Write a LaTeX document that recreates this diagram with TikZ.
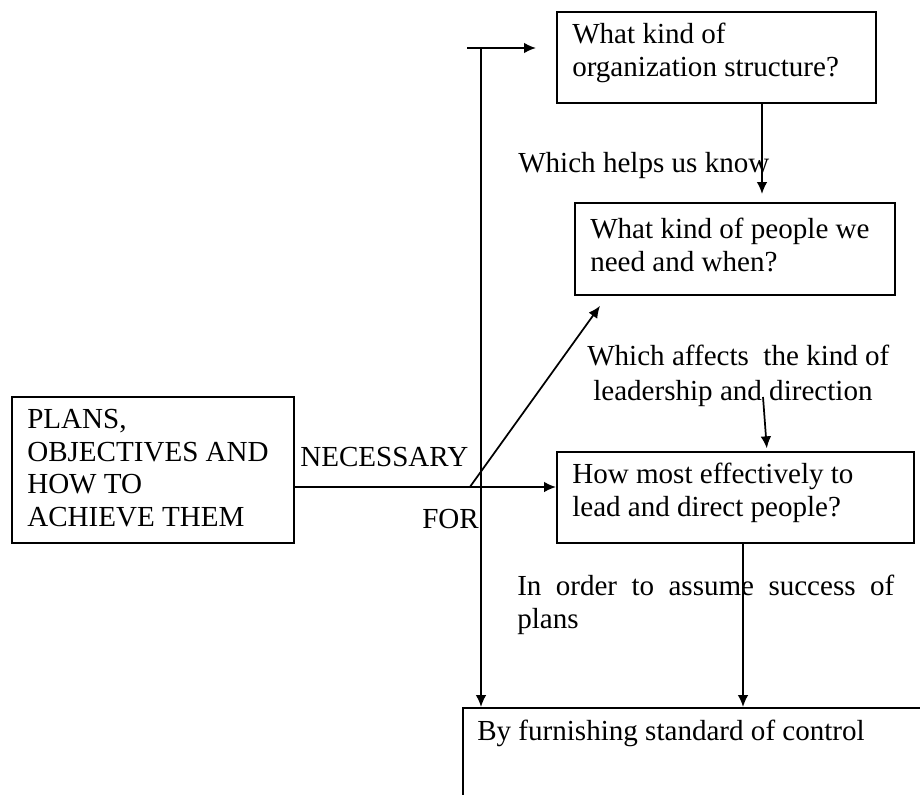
\documentclass[tikz,border=0pt]{standalone}
\usepackage{fontspec}
\setmainfont{Liberation Serif}
\usetikzlibrary{arrows.meta,calc}
\begin{document}
\begin{tikzpicture}[x=0.75pt,y=-0.75pt,
  every node/.style={font=\fontsize{21.8}{24.4}\selectfont},
  box/.style={draw,line width=1.4pt,rectangle,anchor=north west,inner sep=0pt},
  boxtext/.style={anchor=north west,inner sep=0pt,align=left},
  lbl/.style={anchor=base west,inner sep=0pt},
  conn/.style={line width=1.3pt,-{Latex[length=9pt,width=8pt]}}]
\useasboundingbox (0,0) rectangle (920,795);
\clip (0,0) rectangle (920,795);
% boxes
\node[box,minimum width=239.25pt,minimum height=68.25pt] (b1) at (556,11) {};
\node[box,minimum width=240pt,minimum height=69pt] (b2) at (574,202) {};
\node[box,minimum width=267.75pt,minimum height=68.25pt] (b3) at (556,451) {};
\node[box,minimum width=211.5pt,minimum height=109.5pt] (lb) at (11,396) {};
\node[box,minimum width=450pt,minimum height=150pt] (b4) at (462,707) {};
% box texts
\node[boxtext] (t1) at ($(b1.north west)+(16,12)$) {What kind of\\organization structure?};
\node[boxtext] (t2) at ($(b2.north west)+(16,16)$) {What kind of people we\\need and when?};
\node[boxtext] (t3) at ($(b3.north west)+(16,12)$) {How most effectively to\\lead and direct people?};
\node[boxtext] (tl) at ($(lb.north west)+(16,13)$) {PLANS,\\OBJECTIVES AND\\HOW TO\\ACHIEVE THEM};
\node[boxtext] (t4) at ($(b4.north west)+(15,13)$) {By furnishing standard of control};
% labels
\node[lbl] (nec) at (300,466) {NECESSARY};
\node[lbl] (for) at (422,528) {FOR};
\node[lbl] (l1) at (518,172) {Which helps us know};
\node[lbl] (l2a) at (587,365) {Which affects\ \ the kind of};
\node[lbl] (l2b) at (593,400) {leadership and direction};
\node[lbl] (l3a) at (517,595) {\makebox[282.75pt][s]{In order to assume success of}};
\node[lbl] (l3b) at (517,628) {plans};
% connectors
\coordinate (c0) at (467,48);
\coordinate (c1) at (481,48);
\draw[conn,shorten >=15pt] (c0) -- (c0 -| b1.west);
\draw[conn] (c1) -- (c1 |- b4.north);
\draw[conn,shorten >=6pt] ($(b1.south west)+(206,0)$) -- ($(b2.north west)+(188,0)$);
\coordinate (h0) at ($(lb.north east)+(0,91)$);
\draw[conn] (h0) -- (h0 -| b3.west);
\coordinate (d0) at ($(h0)+(175,0)$);
\draw[conn] (d0) -- ($(b2.south west)+(26,10)$);
\coordinate (s0) at (763,397);
\draw[conn,shorten >=2pt] (s0) -- ($(b3.north west)+(211,0)$);
\draw[conn] ($(b3.south west)+(187,0)$) -- ($(b4.north west)+(281,0)$);
\end{tikzpicture}
\end{document}
